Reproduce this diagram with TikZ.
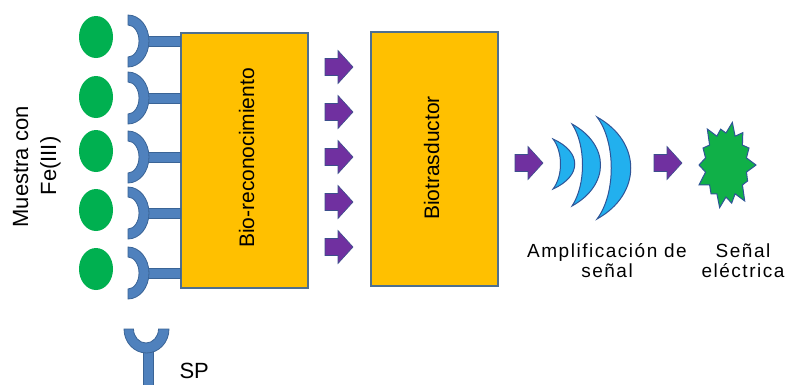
\documentclass[tikz,border=0pt]{standalone}
\usepackage{fontspec}
\setmainfont{Liberation Sans}
\newfontfamily\spacedfont[LetterSpace=8]{Liberation Sans}
\usetikzlibrary{shapes.geometric}

\definecolor{samplegreen}{HTML}{00B050}
\definecolor{recfill}{HTML}{4F81BD}
\definecolor{recedge}{HTML}{3A6496}
\definecolor{boxfill}{HTML}{FFC000}
\definecolor{boxedge}{HTML}{4E6F8F}
\definecolor{arrowfill}{HTML}{7030A0}
\definecolor{arrowedge}{HTML}{3C4E8C}
\definecolor{wavefill}{HTML}{22B0EE}
\definecolor{waveedge}{HTML}{2F5597}
\definecolor{burstfill}{HTML}{10B048}

\tikzset{
  sample/.style={ellipse, fill=samplegreen, minimum width=34, minimum height=42, inner sep=0pt},
  receptor/.style={fill=recfill, draw=recedge, line width=0.8pt},
  stagebox/.style={draw=boxedge, line width=2pt, fill=boxfill, inner sep=0pt},
  vlabel/.style={rotate=90, anchor=base, font=\fontsize{21}{25}\selectfont},
  hlabel/.style={anchor=base, font=\fontsize{19}{20}\spacedfont},
  wave/.style={fill=wavefill, draw=waveedge, line width=1pt},
  burst/.style={fill=burstfill, draw=waveedge, line width=1pt, line join=miter},
  blockarrow/.pic={
    \filldraw[fill=arrowfill, draw=arrowedge, line width=0.6pt]
      (0,-8.5) -- (13,-8.5) -- (13,-16.5) -- (28,0) -- (13,16.5) -- (13,8.5) -- (0,8.5) -- cycle;
  }
}

\begin{document}
\begin{tikzpicture}[x=1pt, y=-1pt]
\useasboundingbox (0,0) rectangle (787,384);
\fill[white] (0,0) rectangle (787,384);

% processing stages
\node[stagebox, minimum width=127, minimum height=255] (recog) at (244.5,160) {};
\node[stagebox, minimum width=127, minimum height=254] (trans) at (434,159) {};
\node[vlabel] (recogtext) at (254,158) {Bio-reconocimiento};
\node[vlabel] (transtext) at (439,158) {Biotrasductor};

% sample particles
\foreach \i/\c in {1/37,2/97,3/151,4/210,5/269} {
  \node[sample] (s\i) at (96,\c) {};
}

% bound receptors with stems into the recognition stage
\foreach \i/\c in {1/41,2/98,3/157,4/213,5/273} {
  \coordinate (stem\i) at (142,\c);
  \filldraw[receptor] (stem\i) ++(0,-5) rectangle (recog.west |- {(0,\c+5)});
  \filldraw[receptor] (128,\c-26) arc (-90:90:21 and 26) -- (128,\c+16)
    arc (90:-90:11 and 16) -- cycle;
}

% free receptor (SP)
\filldraw[receptor] (143.5,349) rectangle (153,386);
\filldraw[receptor] (169,329) arc (0:180:22.5 and 24) -- (133.5,329)
  arc (180:0:12.5 and 14) -- cycle;
\node[anchor=base west, font=\fontsize{22}{24}\selectfont] (sp) at (176,378) {SP};

% sample label
\node[vlabel, font=\fontsize{22}{26}\selectfont] (muestra) at (28,167) {Muestra con};
\node[vlabel, font=\fontsize{22}{26}\selectfont] (fe) at (56,166) {Fe(III)};

% transfer arrows between stages
\foreach \y in {67,112,157,202,247} {
  \pic at (325,\y) {blockarrow};
}
\pic at (515,163) {blockarrow};
\pic at (654,163) {blockarrow};

% signal amplification waves
\filldraw[wave] (553,139) .. controls (582,152) and (582,176) .. (553,189)
  .. controls (563,176) and (563,152) .. (553,139) -- cycle;
\filldraw[wave] (572,124) .. controls (610,145) and (610,185) .. (572,206)
  .. controls (586,185) and (586,145) .. (572,124) -- cycle;
\filldraw[wave] (597,117) .. controls (642,142) and (642,194) .. (597,219)
  .. controls (616,194) and (616,142) .. (597,117) -- cycle;

% electrical signal burst
\filldraw[burst] (756,165)
  \foreach \k/\f in {1/0.8,2/1,3/0.85,4/0.95,5/0.8,6/1,7/0.9,8/0.85,9/1,10/0.8,11/0.95,12/0.9,13/0.85,14/1} {
    -- ({726+21*cos(\k*25.714-12.857)},{165+32*sin(\k*25.714-12.857)})
    -- ({726+30*\f*cos(\k*25.714)},{165+46*\f*sin(\k*25.714)})
  } -- cycle;

% output labels
\node[hlabel] (amp1) at (607,257) {Amplificación de};
\node[hlabel] (amp2) at (607,277) {señal};
\node[hlabel] (sig1) at (743,257) {Señal};
\node[hlabel] (sig2) at (743,277) {eléctrica};
\end{tikzpicture}
\end{document}
